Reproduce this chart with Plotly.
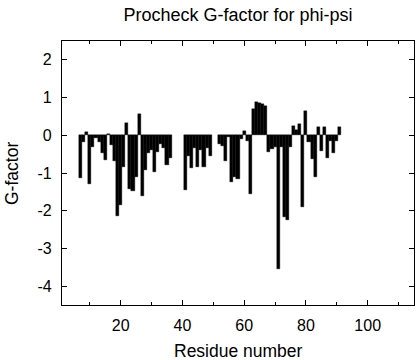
import plotly.graph_objects as go

residues = [7, 8, 9, 10, 11, 12, 13, 14, 15, 16, 17, 18, 19, 20, 21, 22, 23, 24, 25, 26,
            27, 28, 29, 30, 31, 32, 33, 34, 35, 36,
            41, 42, 43, 44, 45, 46, 47, 48, 49,
            52, 53, 54, 55, 56, 57, 58, 59, 60, 61, 62, 63, 64, 65, 66, 67, 68, 69, 70,
            71, 72, 73, 74, 75, 76, 77, 78, 79, 80, 81, 82, 83, 84, 85, 86, 87, 88, 89, 90, 91]
gfactor = [-1.14, -0.19, 0.10, -1.29, -0.30, -0.06, -0.18, -0.46, -0.65, 0.04, -0.27, -0.68,
           -2.15, -1.84, -0.85, 0.32, -1.42, -1.49, -1.11, 0.57,
           -1.60, -0.91, -0.48, -0.40, -0.98, -0.45, -0.24, -0.35, -0.78, -0.60,
           -1.46, -0.55, -0.88, -0.35, -0.85, -0.40, -0.85, -0.35, -0.55,
           -0.24, -0.28, -0.68, -0.04, -1.25, -1.10, -1.15, -0.10, 0.11, -0.15, -1.55,
           0.70, 0.89, 0.86, 0.82, 0.77, -0.44, -0.37, -0.30,
           -3.55, -0.30, -2.17, -2.24, -0.30, 0.25, 0.14, 0.30, -1.90, 0.64, -0.19, -0.63,
           -1.11, 0.23, -0.41, 0.23, -0.59, -0.15, -0.48, -0.15, 0.23]

x_ticks = [20, 40, 60, 80, 100]
x_ticklabels = ["20", "40", "60", "80", "100"]
y_ticks = [-4, -3, -2, -1, 0, 1, 2]
y_ticklabels = ["-4", "-3", "-2", "-1", "0", "1", "2"]

FONT = "Liberation Sans, Arial, Helvetica, sans-serif"

W, H = 416, 360
L, R, T, B = 62, 2, 41, 55
PW, PH = W - L - R, H - T - B

fig = go.Figure(
    go.Bar(
        x=residues,
        y=gfactor,
        width=1.0,
        marker=dict(color="black", line=dict(width=0.4, color="black")),
        hoverinfo="skip",
    )
)

fig.update_layout(
    width=W,
    height=H,
    margin=dict(l=L, r=R, t=T, b=B, autoexpand=False),
    paper_bgcolor="white",
    plot_bgcolor="white",
    showlegend=False,
    bargap=0,
    font=dict(family=FONT, color="black"),
    title=dict(
        text="Procheck G-factor for phi-psi",
        font=dict(family=FONT, size=18, color="black"),
        x=0.5,
        xref="paper",
        xanchor="center",
        y=1 - 15 / H,
        yref="container",
        yanchor="middle",
    ),
    annotations=[
        dict(text="Residue number", xref="paper", yref="paper",
             x=0.5, y=(0 - (351 - (H - B))) / PH, xanchor="center", yanchor="middle",
             showarrow=False, font=dict(family=FONT, size=17.5, color="black")),
        dict(text="G-factor", xref="paper", yref="paper",
             x=(12 - L) / PW, y=0.5, xanchor="center", yanchor="middle", textangle=-90,
             showarrow=False, font=dict(family=FONT, size=17.5, color="black")),
    ],
)

fig.update_xaxes(
    range=[1, 115],
    automargin=False,
    tickvals=x_ticks,
    ticktext=x_ticklabels,
    ticks="inside",
    ticklen=5,
    tickwidth=1,
    tickcolor="black",
    showline=True,
    linecolor="black",
    linewidth=1.2,
    mirror="allticks",
    showgrid=False,
    zeroline=False,
    tickfont=dict(family=FONT, size=16, color="black"),
    ticklabelstandoff=6,
    minor=dict(tickvals=[10, 30, 50, 70, 90, 110], ticks="inside", ticklen=3,
               tickcolor="black", tickwidth=1, showgrid=False),
)

fig.update_yaxes(
    range=[-4.5, 2.5],
    automargin=False,
    tickvals=y_ticks,
    ticktext=y_ticklabels,
    ticks="inside",
    ticklen=5,
    tickwidth=1,
    tickcolor="black",
    showline=True,
    linecolor="black",
    linewidth=1.2,
    mirror="allticks",
    showgrid=False,
    zeroline=False,
    tickfont=dict(family=FONT, size=16, color="black"),
    ticklabelstandoff=6,
)

fig.write_html(
    "out.html",
    config={"displayModeBar": False},
    post_script="document.body.style.margin='0';document.body.style.overflow='hidden';",
)
